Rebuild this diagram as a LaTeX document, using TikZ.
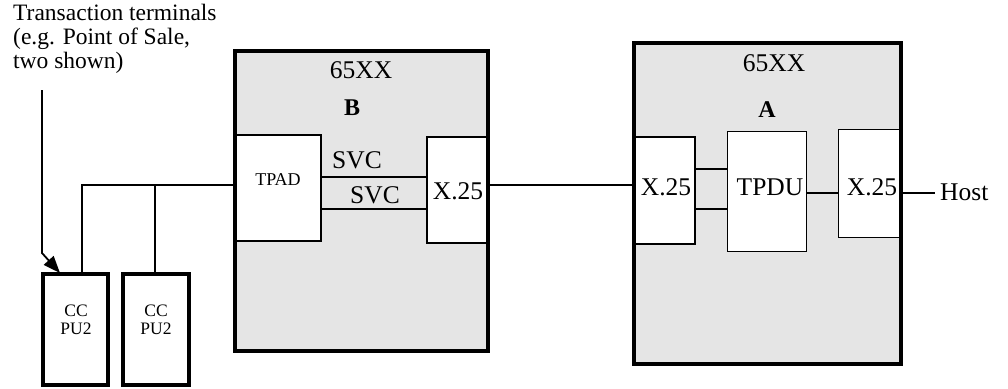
\documentclass[tikz,border=0pt]{standalone}
\usepackage{fontspec}
\setmainfont{Liberation Serif}
\usetikzlibrary{arrows.meta}
\definecolor{boxgray}{HTML}{E5E5E5}
\begin{document}
\begin{tikzpicture}[x=1pt,y=-1pt,
  unit/.style={draw=none,fill=boxgray,inner sep=0pt,minimum width=#1},
  border/.style={line width=4pt},
  inbox/.style={draw,fill=white,line width=1.4pt,inner sep=0pt},
  term/.style={draw,fill=white,line width=4pt,inner sep=0pt,minimum width=#1,minimum height=111pt},
  lbl/.style={font=\fontsize{25.5}{26}\selectfont,inner sep=0pt},
  small/.style={font=\fontsize{17.5}{15}\selectfont,inner sep=0pt},
  thinln/.style={line width=1.4pt},
  medln/.style={line width=2.7pt},
]
\useasboundingbox (0,0) rectangle (1008,388);

% containers (fill)
\node[unit=253pt,minimum height=300pt] (boxB) at (361.5,201) {};
\node[unit=267pt,minimum height=321pt] (boxA) at (767.5,203.5) {};

% inner boxes
\node[inbox,minimum width=87pt,minimum height=106pt] (tpad) at (277.5,188) {};
\node[inbox,minimum width=60pt,minimum height=106pt] (xb) at (457,190) {};
\node[inbox,minimum width=61pt,minimum height=107pt] (xa1) at (664.5,190.5) {};
\node[inbox,minimum width=79pt,minimum height=120pt] (tpdu) at (767,191.5) {};
\node[inbox,minimum width=62pt,minimum height=108pt] (xa2) at (869.5,183.5) {};

% container borders
\draw[border] (boxB.north west) rectangle (boxB.south east);
\draw[border] (boxA.north west) rectangle (boxA.south east);

% labels in containers
\node[lbl] (tB) at (361,70) {65XX};
\node[lbl,font=\fontsize{24}{26}\selectfont\bfseries] (nB) at (352,108) {B};
\node[lbl] (tA) at (774,63) {65XX};
\node[lbl,font=\fontsize{24}{26}\selectfont\bfseries] (nA) at (767,110) {A};
\node[small,font=\fontsize{18}{15}\selectfont] (ltpad) at (278,180) {TPAD};
\node[lbl] (lxb) at (458,191) {X.25};
\node[lbl] (svc1) at (357,160) {SVC};
\node[lbl] (svc2) at (375,195) {SVC};
\node[lbl] (lxa1) at (666,187) {X.25};
\node[lbl] (ltpdu) at (770,187) {TPDU};
\node[lbl] (lxa2) at (872,187) {X.25};
\node[lbl,anchor=west] (host) at (940,192) {Host};

% terminals
\node[term=65pt] (cc1) at (75.5,329.5) {};
\node[term=66pt] (cc2) at (156,329.5) {};
\node[small] (lcc1a) at (76,311) {CC};
\node[small] (lcc1b) at (76,329) {PU2};
\node[small] (lcc2a) at (156,311) {CC};
\node[small] (lcc2b) at (156,329) {PU2};

\node[anchor=west,align=left,inner sep=0pt,font=\fontsize{23.5}{24}\selectfont] (note) at (13,39)
  {Transaction terminals\\(e.g. Point of Sale,\\two shown)};

% connectors
\coordinate (arrtop) at (42,90);
\coordinate (arrbend) at (42,253);
\coordinate (arrtip) at (60,273);
\draw[line width=1.8pt,-{Triangle[length=17pt,width=13pt]}] (arrtop) -- (arrbend) -- (arrtip);

\coordinate (j1) at (82,185);
\coordinate (j2) at (155,185);
\draw[medln] (cc1.north -| j1) -- (j1) -- (tpad.west |- j1);
\draw[medln] (cc2.north -| j2) -- (j2);

\draw[thinln] (tpad.east |- 0,177) -- (xb.west |- 0,177);
\draw[thinln] (tpad.east |- 0,209) -- (xb.west |- 0,209);
\draw[medln] (boxB.east |- 0,185) -- (xa1.west |- 0,185);
\draw[thinln] (xa1.east |- 0,169) -- (tpdu.west |- 0,169);
\draw[thinln] (xa1.east |- 0,209) -- (tpdu.west |- 0,209);
\draw[thinln] (tpdu.east |- 0,193) -- (xa2.west |- 0,193);
\coordinate (hostend) at (935,193);
\draw[medln] (boxA.east |- 0,193) -- (hostend);
\end{tikzpicture}
\end{document}
